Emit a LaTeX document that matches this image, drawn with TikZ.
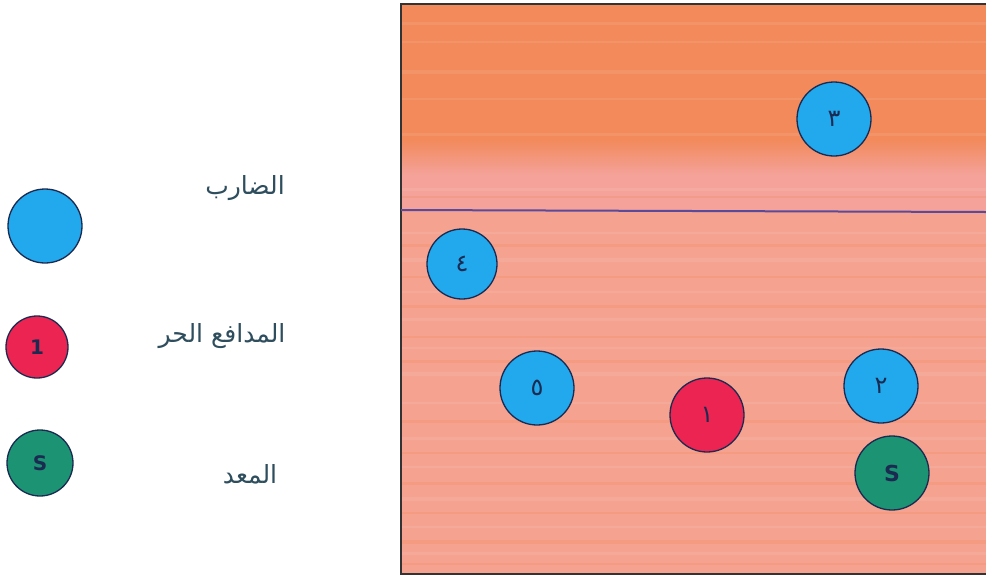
\documentclass[tikz,border=0pt]{standalone}
\usepackage{fontspec}
\setmainfont{DejaVu Sans}
\newfontfamily\arabicfont[Script=Arabic]{DejaVu Sans}
\TeXXeTstate=1
\definecolor{courttop}{HTML}{F28A5C}
\definecolor{courtband}{HTML}{F4A29A}
\definecolor{courtlow}{HTML}{F5A290}
\definecolor{netcol}{HTML}{5A4A9A}
\definecolor{pblue}{HTML}{22A8EC}
\definecolor{pred}{HTML}{EC2452}
\definecolor{pgreen}{HTML}{1C9474}
\definecolor{txtcol}{HTML}{2E4E5E}
\definecolor{digcol}{HTML}{1A2A50}
\begin{document}
\begin{tikzpicture}[x=1pt,y=-1pt,
  player/.style={circle,draw=digcol,line width=1.3pt,inner sep=0pt,
    minimum size=#1,text=digcol,font=\fontsize{24}{26}\selectfont\arabicfont},
  player/.default=74pt,
  label/.style={text=txtcol,font=\fontsize{25}{28}\selectfont\arabicfont,inner sep=0pt}]
\useasboundingbox (0,0) rectangle (986,582);
\fill[white] (0,0) rectangle (986,582);
% court
\fill[courttop] (400,4) rectangle (986,210);
\shade[top color=courttop,bottom color=courtband] (400,140) rectangle (986,175);
\fill[courtband] (400,175) rectangle (986,210);
\fill[courtlow] (400,210) rectangle (986,574);
\foreach \yy/\hh in {22/3,41/2,70/4,98/2,133/3,188/3,232/2,258/4,291/2,318/3,347/2,372/4,402/2,437/3,466/2,497/4,526/2,552/3}
  \fill[white,opacity=0.08] (400,\yy) rectangle (986,\yy+\hh);
\foreach \yy/\hh in {15/2,52/3,84/2,117/3,196/2,244/3,276/2,305/3,336/2,360/3,420/3,452/2,482/3,512/2,540/4,563/2}
  \fill[courttop,opacity=0.25] (400,\yy) rectangle (986,\yy+\hh);
\draw[line width=2.5pt,draw=black!80,line cap=rect] (986,4) -- (401,4) -- (401,574) -- (986,574);
\draw[netcol,line width=2pt] (401,210) -- (986,212);
% court players
\node[player,fill=pblue] (p3) at (834,119) {\beginR ٣\endR};
\node[player,fill=pblue,minimum size=70pt] (p4) at (462,264) {\beginR ٤\endR};
\node[player,fill=pblue] (p5) at (537,388) {\beginR ٥\endR};
\node[player,fill=pred] (p1) at (707,415) {\beginR ١\endR};
\node[player,fill=pblue] (p2) at (881,386) {\beginR ٢\endR};
\node[player,fill=pgreen,font=\fontsize{22}{24}\selectfont\bfseries] (ps) at (892,473) {S};
% legend
\node[player=74pt,fill=pblue] (lb) at (45,226) {};
\node[player=62pt,fill=pred,font=\fontsize{20}{22}\selectfont\bfseries] (lr) at (37,347) {1};
\node[player=66pt,fill=pgreen,font=\fontsize{20}{22}\selectfont\bfseries] (lg) at (40,463) {S};
\node[label] (tb) at (245,188) {\beginR الضارب\endR};
\node[label] (tr) at (222,336) {\beginR المدافع الحر\endR};
\node[label] (tg) at (250,474) {\beginR المعد\endR};
\end{tikzpicture}
\end{document}
